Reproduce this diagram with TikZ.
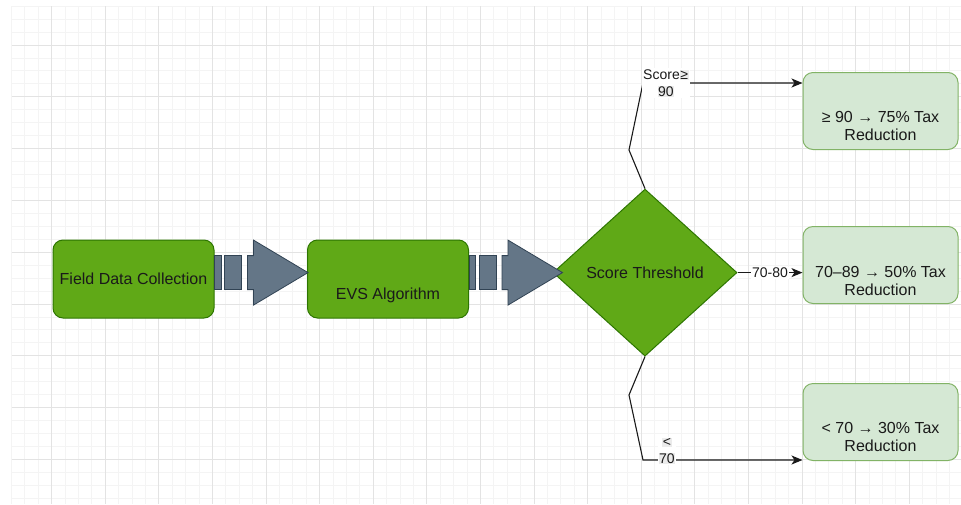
\documentclass[tikz,border=0pt]{standalone}
\usepackage{fontspec}
\setmainfont{Liberation Sans}
\usetikzlibrary{shapes.geometric,arrows.meta,calc}
\definecolor{gfill}{HTML}{60A917}
\definecolor{gline}{HTML}{2D7600}
\definecolor{lfill}{HTML}{D5E8D4}
\definecolor{lline}{HTML}{82B366}
\definecolor{afill}{HTML}{647687}
\definecolor{aline}{HTML}{314354}
\definecolor{minorgrid}{HTML}{F4F4F4}
\definecolor{majorgrid}{HTML}{E3E3E3}
\definecolor{edgecol}{HTML}{1A1A1A}
\definecolor{txtcol}{HTML}{1A1A1A}
\definecolor{hlgray}{HTML}{EBEBEB}
\newcommand{\hlbox}[1]{{\setlength{\fboxsep}{0.6pt}\colorbox{hlgray}{#1}}}
\tikzset{
  greenbox/.style={draw=gline, fill=gfill, rounded corners=10pt, line width=1pt,
    minimum width=161pt, minimum height=78pt, inner sep=0pt, text=txtcol,
    font=\fontsize{16}{18.4}\selectfont},
  resbox/.style={draw=lline, fill=lfill, rounded corners=10pt, line width=1pt,
    minimum width=155pt, minimum height=77pt, inner sep=0pt},
  boxtext/.style={text=txtcol, font=\fontsize{16}{18.4}\selectfont, align=center, inner sep=0pt},
  connector/.style={draw=edgecol, line width=1.1pt, -{Stealth[length=11pt,width=9pt,inset=3pt]}},
  edgelabel/.style={fill=white, text=txtcol, font=\fontsize{14}{17}\selectfont, align=center, inner sep=1pt},
  arrowpart/.style={fill=afill, draw=aline, line width=0.8pt},
  stripedarrow/.pic={
    \filldraw[arrowpart] (0,-17) rectangle (6.5,17);
    \filldraw[arrowpart] (10,-17) rectangle (27,17);
    \filldraw[arrowpart] (33,-17) -- (39,-17) -- (39,-32.5) -- (93.5,0) -- (39,32.5) -- (39,17) -- (33,17) -- cycle;
  },
}
\begin{document}
\begin{tikzpicture}[x=1pt,y=-1pt]
\useasboundingbox (0,0) rectangle (961,504);
\fill[white] (0,0) rectangle (961,504);
% grid
\foreach \i in {0,...,70} {
  \draw[minorgrid, line width=0.9pt] ({11.5+13.4*\i},6.15) -- ({11.5+13.4*\i},504);
}
\foreach \j in {0,...,38} {
  \draw[minorgrid, line width=0.9pt] (11.5,{6.15+12.95*\j}) -- (961,{6.15+12.95*\j});
}
\foreach \k in {0,...,16} {
  \draw[majorgrid, line width=0.9pt] ({51.7+53.6*\k},6.15) -- ({51.7+53.6*\k},504);
}
\foreach \k in {0,...,8} {
  \draw[majorgrid, line width=0.9pt] (11.5,{45+51.8*\k}) -- (961,{45+51.8*\k});
}
% nodes
\node (fdc) [greenbox] at (133.5,279) {Field Data Collection};
\node (evs) [greenbox, label={[boxtext, yshift=-16pt]center:EVS Algorithm}] at (388,279) {};
\node (dia) [diamond, draw=gline, fill=gfill, line width=1pt, minimum width=184pt,
  minimum height=167pt, inner sep=0pt, text=txtcol, font=\fontsize{16}{18.4}\selectfont]
  at (645,272.6) {Score Threshold};
\node (r1) [resbox, label={[boxtext, yshift=-15pt]center:{≥ 90 → 75\% Tax\\Reduction}}] at (880.5,111) {};
\node (r2) [resbox, label={[boxtext, yshift=-16pt]center:{70–89 → 50\% Tax\\Reduction}}] at (880.5,265) {};
\node (r3) [resbox, label={[boxtext, yshift=-15pt]center:{< 70 → 30\% Tax\\Reduction}}] at (880.5,422) {};
% striped arrows
\pic at (fdc.east |- dia.west) {stripedarrow};
\pic at (evs.east |- dia.west) {stripedarrow};
% connectors
\coordinate (tA) at (629,150);
\coordinate (tB) at (643,83);
\draw[connector] (dia.north) -- (tA) -- (tB) -- node[edgelabel, pos=0.144]{Score\hlbox{≥}\\\hlbox{90}} (tB -| r1.west);
\draw[connector] (dia.east) -- node[edgelabel]{70-80} (dia.east -| r2.west);
\coordinate (bA) at (629,395);
\coordinate (bB) at (643,460);
\draw[connector] (dia.south) -- (bA) -- (bB) -- node[edgelabel, pos=0.15, yshift=9pt]{\hlbox{<}\\\hlbox{70}} (bB -| r3.west);
\end{tikzpicture}
\end{document}
